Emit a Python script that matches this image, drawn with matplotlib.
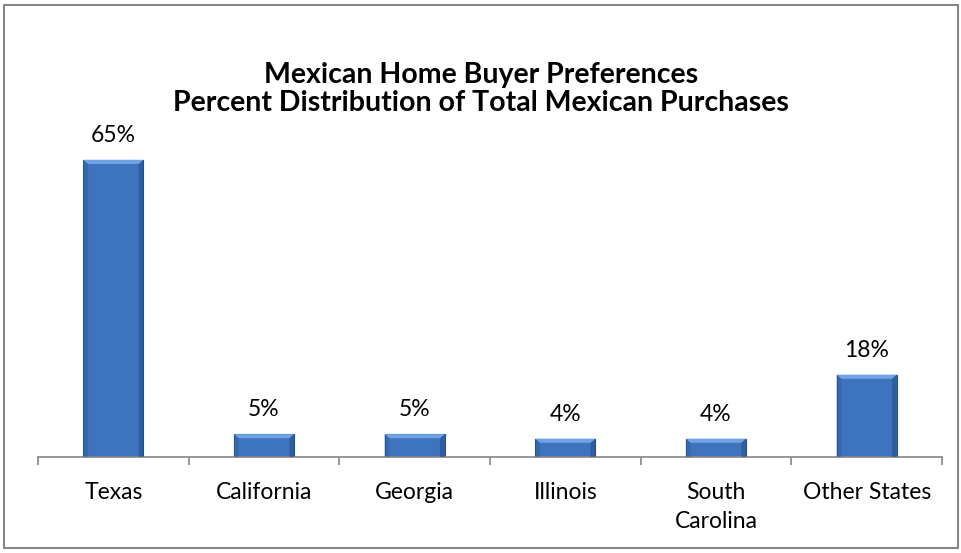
import matplotlib.pyplot as plt
from matplotlib.patches import Rectangle, Polygon

states = ['Texas', 'California', 'Georgia', 'Illinois', 'South\nCarolina', 'Other States']
shares = [65, 5, 5, 4, 4, 18]

plt.rcParams['font.family'] = ['Lato', 'DejaVu Sans']

fig = plt.figure(figsize=(9.62, 5.53), dpi=100)
fig.patches.append(Rectangle((4 / 962, 5 / 553), 954 / 962, 543 / 553, transform=fig.transFigure,
                             fill=False, edgecolor='#868686', linewidth=1.5))

ax = fig.add_axes([38 / 962, 96 / 553, 904 / 962, 320 / 553])
x = range(len(states))
bars = ax.bar(x, shares, width=0.4, color='#3d74bd', edgecolor='#264f86', linewidth=0.8, zorder=2)

# bevel highlight on top of each bar
for b in bars:
    x0, w, h = b.get_x(), b.get_width(), b.get_height()
    dx = w * 0.08
    dy = 0.9
    ax.add_patch(Polygon([(x0, h), (x0 + w, h), (x0 + w - dx, h - dy), (x0 + dx, h - dy)],
                         closed=True, facecolor='#6fa3e6', edgecolor='none', zorder=3))
    ax.add_patch(Polygon([(x0, 0), (x0, h), (x0 + dx, h - dy), (x0 + dx, 0)],
                         closed=True, facecolor='#2f5f9f', edgecolor='none', alpha=0.5, zorder=3))
    ax.add_patch(Polygon([(x0 + w, 0), (x0 + w, h), (x0 + w - dx, h - dy), (x0 + w - dx, 0)],
                         closed=True, facecolor='#234a80', edgecolor='none', alpha=0.5, zorder=3))

for i, v in enumerate(shares):
    ax.annotate(f'{v}%', (i, v), xytext=(0, 13), textcoords='offset points',
                ha='center', va='baseline', fontsize=16.5)

ax.set_xlim(-0.5, len(states) - 0.5)
ax.set_ylim(0, 70)
for s in ['top', 'right', 'left']:
    ax.spines[s].set_visible(False)
ax.spines['bottom'].set_color('#868686')
ax.spines['bottom'].set_linewidth(1.2)
ax.set_yticks([])
ax.set_xticks([i - 0.5 for i in range(len(states) + 1)])
ax.set_xticklabels([])
ax.set_xticks(list(x), minor=True)
ax.set_xticklabels(states, minor=True, fontsize=16.5, linespacing=1.45)
ax.tick_params(axis='x', which='major', length=6, color='#868686', width=1.2)
ax.tick_params(axis='x', which='minor', length=0, pad=18)

fig.text(0.5, 1 - 75 / 553, 'Mexican Home Buyer Preferences', ha='center', va='center',
         fontsize=20.5, fontweight='bold')
fig.text(0.5, 1 - 103 / 553, 'Percent Distribution of Total Mexican Purchases', ha='center', va='center',
         fontsize=20.5, fontweight='bold')

fig.savefig('out.png', dpi=100)
